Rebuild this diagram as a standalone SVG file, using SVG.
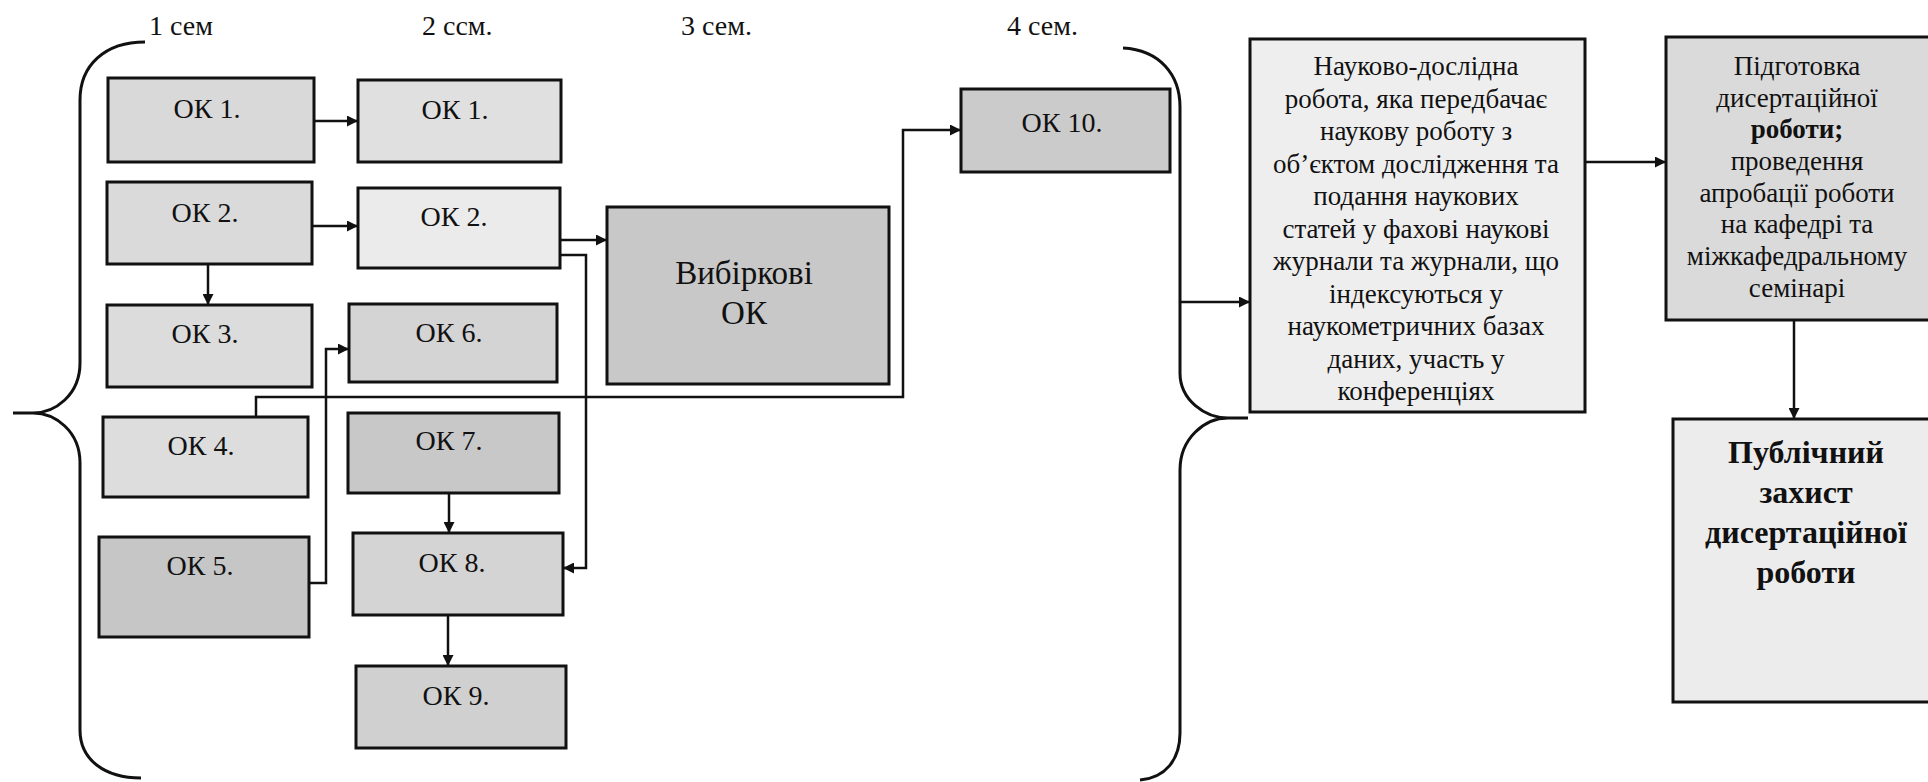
<svg xmlns="http://www.w3.org/2000/svg" width="1928" height="782" viewBox="0 0 1928 782">
<defs>
<marker id="ah" viewBox="0 0 10 10" refX="10" refY="5" markerWidth="5" markerHeight="4.4" orient="auto" markerUnits="strokeWidth">
<path d="M0,0 L10,5 L0,10 z" fill="#111"/>
</marker>
<style>
.box{stroke:#111;stroke-width:3}
.t{font-family:"Liberation Serif","Times New Roman",serif;font-size:28px;fill:#111;text-anchor:middle}
.s{font-family:"Liberation Serif","Times New Roman",serif;font-size:28px;fill:#111}
.m{font-family:"Liberation Serif","Times New Roman",serif;font-size:27px;fill:#111;text-anchor:middle}
.b{font-family:"Liberation Serif","Times New Roman",serif;font-size:32px;font-weight:bold;fill:#111;text-anchor:middle}
.c{fill:none;stroke:#111;stroke-width:2.5}
.br{fill:none;stroke:#111;stroke-width:3}
</style>
</defs>
<rect width="1928" height="782" fill="#fff"/>
<g id="labels">
<text class="s" x="149" y="35">1 сем</text>
<text class="s" x="422" y="35">2 ссм.</text>
<text class="s" x="681" y="35">3 сем.</text>
<text class="s" x="1007" y="35">4 сем.</text>
</g>
<g id="braces">
<path class="br" d="M145,42 C105,42 80,65 80,100 L80,363 C80,395 55,413 33,413 L13,413 M33,413 C55,413 80,431 80,463 L80,730 C80,760 105,778 141,778"/>
<path class="br" d="M1123,48 C1160,50 1180,75 1180,107 L1180,373 C1180,400 1205,418 1228,418 L1248,418 M1228,418 C1205,418 1180,438 1180,470 L1180,733 C1180,760 1165,778 1140,780"/>
</g>
<g id="ok1a"><rect class="box" x="108" y="78" width="206" height="84" fill="#d9d9d9"/><text class="t" x="207" y="118">ОК 1.</text></g>
<g id="ok2a"><rect class="box" x="107" y="182" width="205" height="82" fill="#dadada"/><text class="t" x="205" y="222">ОК 2.</text></g>
<g id="ok3"><rect class="box" x="107" y="305" width="205" height="82" fill="#dcdcdc"/><text class="t" x="205" y="343">ОК 3.</text></g>
<g id="ok4"><rect class="box" x="103" y="417" width="205" height="80" fill="#dddddd"/><text class="t" x="201" y="455">ОК 4.</text></g>
<g id="ok5"><rect class="box" x="99" y="537" width="210" height="100" fill="#c6c6c6"/><text class="t" x="200" y="575">ОК 5.</text></g>
<g id="ok1b"><rect class="box" x="358" y="80" width="203" height="82" fill="#e0e0e0"/><text class="t" x="455" y="119">ОК 1.</text></g>
<g id="ok2b"><rect class="box" x="358" y="188" width="202" height="80" fill="#ebebeb"/><text class="t" x="454" y="226">ОК 2.</text></g>
<g id="ok6"><rect class="box" x="349" y="304" width="208" height="78" fill="#d4d4d4"/><text class="t" x="449" y="342">ОК 6.</text></g>
<g id="ok7"><rect class="box" x="348" y="413" width="211" height="80" fill="#c8c8c8"/><text class="t" x="449" y="450">ОК 7.</text></g>
<g id="ok8"><rect class="box" x="353" y="533" width="210" height="82" fill="#d4d4d4"/><text class="t" x="452" y="572">ОК 8.</text></g>
<g id="ok9"><rect class="box" x="356" y="666" width="210" height="82" fill="#d0d0d0"/><text class="t" x="456" y="705">ОК 9.</text></g>
<g id="vybirkovi"><rect class="box" x="607" y="207" width="282" height="177" fill="#c8c8c8"/><text class="t" style="font-size:33px" x="744" y="284">Вибіркові</text><text class="t" style="font-size:33px" x="744" y="324">ОК</text></g>
<g id="ok10"><rect class="box" x="961" y="89" width="209" height="83" fill="#cbcbcb"/><text class="t" x="1062" y="132">ОК 10.</text></g>
<g id="research"><rect class="box" x="1250" y="39" width="335" height="373" fill="#eeeeee"/>
<text class="m" x="1416" y="75">Науково-дослідна</text>
<text class="m" x="1416" y="107.5">робота, яка передбачає</text>
<text class="m" x="1416" y="140">наукову роботу з</text>
<text class="m" x="1416" y="172.5">об’єктом дослідження та</text>
<text class="m" x="1416" y="205">подання наукових</text>
<text class="m" x="1416" y="237.5">статей у фахові наукові</text>
<text class="m" x="1416" y="270">журнали та журнали, що</text>
<text class="m" x="1416" y="302.5">індексуються у</text>
<text class="m" x="1416" y="335">наукометричних базах</text>
<text class="m" x="1416" y="367.5">даних, участь у</text>
<text class="m" x="1416" y="400">конференціях</text>
</g>
<g id="prep"><rect class="box" x="1666" y="37" width="265" height="283" fill="#dadada"/>
<text class="m" x="1797" y="75">Підготовка</text>
<text class="m" x="1797" y="107">дисертаційної</text>
<text class="m" x="1797" y="138" font-weight="bold">роботи;</text>
<text class="m" x="1797" y="170">проведення</text>
<text class="m" x="1797" y="202">апробації роботи</text>
<text class="m" x="1797" y="233">на кафедрі та</text>
<text class="m" x="1797" y="265">міжкафедральному</text>
<text class="m" x="1797" y="297">семінарі</text>
</g>
<g id="defense"><rect class="box" x="1673" y="419" width="258" height="283" fill="#ececec"/>
<text class="b" x="1806" y="463">Публічний</text>
<text class="b" x="1806" y="503">захист</text>
<text class="b" x="1806" y="543">дисертаційної</text>
<text class="b" x="1806" y="583">роботи</text>
</g>
<g id="connectors">
<path class="c" marker-end="url(#ah)" d="M314,121 L358,121"/>
<path class="c" marker-end="url(#ah)" d="M312,226 L358,226"/>
<path class="c" marker-end="url(#ah)" d="M208,264 L208,305"/>
<path class="c" marker-end="url(#ah)" d="M560,240 L607,240"/>
<path class="c" marker-end="url(#ah)" d="M560,255 L586,255 L586,568 L563,568"/>
<path class="c" marker-end="url(#ah)" d="M309,583 L326,583 L326,349 L349,349"/>
<path class="c" marker-end="url(#ah)" d="M256,417 L256,397 L903,397 L903,130 L961,130"/>
<path class="c" marker-end="url(#ah)" d="M449,493 L449,533"/>
<path class="c" marker-end="url(#ah)" d="M448,615 L448,666"/>
<path class="c" marker-end="url(#ah)" d="M1180,302 L1250,302"/>
<path class="c" marker-end="url(#ah)" d="M1585,162 L1666,162"/>
<path class="c" marker-end="url(#ah)" d="M1794,320 L1794,419"/>
</g>
</svg>
